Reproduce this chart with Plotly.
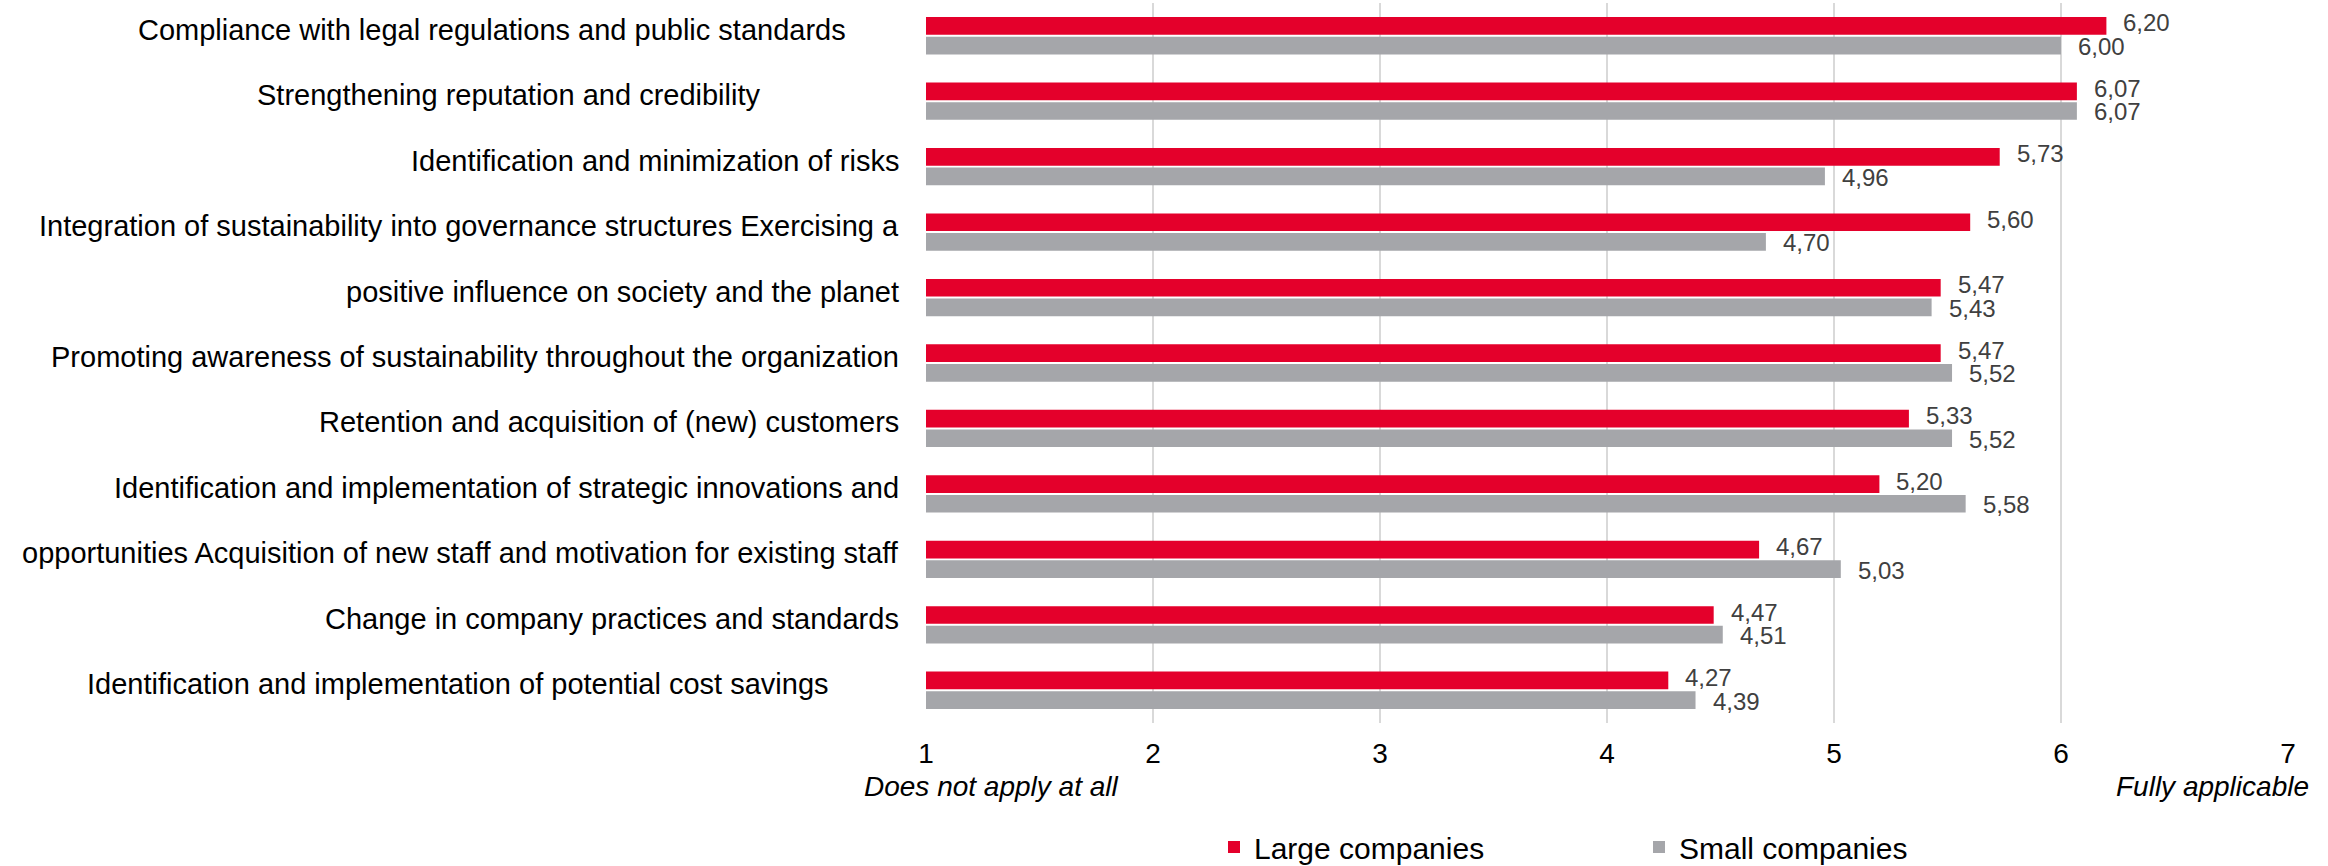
import plotly.graph_objects as go

# Survey items (top to bottom) and mean scores on a 1-7 scale
categories = [
    "Compliance with legal regulations and public standards",
    "Strengthening reputation and credibility",
    "Identification and minimization of risks",
    "Integration of sustainability into governance structures Exercising a",
    "positive influence on society and the planet",
    "Promoting awareness of sustainability throughout the organization",
    "Retention and acquisition of (new) customers",
    "Identification and implementation of strategic innovations and",
    "opportunities Acquisition of new staff and motivation for existing staff",
    "Change in company practices and standards",
    "Identification and implementation of potential cost savings",
]
large_companies = [6.20, 6.07, 5.73, 5.60, 5.47, 5.47, 5.33, 5.20, 4.67, 4.47, 4.27]
small_companies = [6.00, 6.07, 4.96, 4.70, 5.43, 5.52, 5.52, 5.58, 5.03, 4.51, 4.39]
x_ticks = [1, 2, 3, 4, 5, 6, 7]

# Page and plot-area geometry (pixels)
W, H = 2328, 866
PLOT_L, PLOT_R, PLOT_T, PLOT_B = 926, 2288, 3, 723
# right edge of each category caption
label_right = [848, 762, 901, 901, 901, 901, 901, 901, 901, 901, 831]

FONT = "Arial, Liberation Sans, sans-serif"
RED = "#E4002B"
GREY = "#A5A6AA"
BARGAP = 0.40
BARGROUPGAP = 0.10

# vertical offset of each bar in a pair from the category centre
band = (PLOT_B - PLOT_T) / len(categories)
bar_offset = band * (1 - BARGAP) / 4


def px_x(px):
    return (px - PLOT_L) / (PLOT_R - PLOT_L)


def px_y(py):
    return (PLOT_B - py) / (PLOT_B - PLOT_T)


def fmt(v):
    return f"{v:.2f}".replace(".", ",")


fig = go.Figure()
annotations = []
series = [
    ("Large companies", large_companies, RED, bar_offset + 3),
    ("Small companies", small_companies, GREY, -bar_offset - 1),
]
for name, vals, color, shift in series:
    fig.add_trace(go.Bar(
        name=name,
        y=categories,
        x=vals,
        orientation="h",
        marker=dict(color=color, line=dict(width=0)),
        hovertemplate="%{y}: %{x:.2f}<extra>" + name + "</extra>",
    ))
    # value labels just beyond the end of each bar
    for cat, v in zip(categories, vals):
        annotations.append(dict(
            text=fmt(v), xref="x", yref="y", x=v, y=cat,
            xanchor="left", yanchor="middle", xshift=15, yshift=shift,
            showarrow=False,
            font=dict(family=FONT, size=24, color="#404040"),
        ))

for cat, xr in zip(categories, label_right):
    annotations.append(dict(
        text=cat, xref="paper", yref="y", x=px_x(xr), y=cat,
        xanchor="right", yanchor="middle", yshift=6, showarrow=False,
        font=dict(family=FONT, size=29, color="#000000"),
    ))
annotations.append(dict(
    text="<i>Does not apply at all</i>", xref="paper", yref="paper",
    x=px_x(862), y=px_y(787), xanchor="left", yanchor="middle",
    showarrow=False, font=dict(family=FONT, size=28, color="#000000"),
))
annotations.append(dict(
    text="<i>Fully applicable</i>", xref="paper", yref="paper",
    x=px_x(2311), y=px_y(787), xanchor="right", yanchor="middle",
    showarrow=False, font=dict(family=FONT, size=28, color="#000000"),
))

fig.update_layout(
    width=W, height=H,
    margin=dict(l=PLOT_L, r=W - PLOT_R, t=PLOT_T, b=H - PLOT_B, autoexpand=False),
    paper_bgcolor="white", plot_bgcolor="white",
    barmode="group", bargap=BARGAP, bargroupgap=BARGROUPGAP,
    separators=",.",
    font=dict(family=FONT, color="#000000"),
    annotations=annotations,
    showlegend=True,
    legend=dict(
        orientation="h", xref="paper", yref="paper",
        x=px_x(1214), y=px_y(847), xanchor="left", yanchor="middle",
        font=dict(family=FONT, size=30, color="#000000"),
        entrywidth=380, entrywidthmode="pixels",
        bgcolor="rgba(0,0,0,0)", borderwidth=0,
    ),
)
fig.update_xaxes(
    range=[1, 7], tickvals=x_ticks, ticktext=[str(v) for v in x_ticks],
    showgrid=True, gridcolor="#D9D9D9", gridwidth=2, zeroline=False,
    showline=False, ticks="outside", ticklen=5, tickcolor="rgba(0,0,0,0)",
    tickfont=dict(family=FONT, size=28, color="#000000"),
    fixedrange=True,
)
fig.update_yaxes(
    autorange="reversed", showticklabels=False, showgrid=False,
    zeroline=False, showline=False, fixedrange=True,
)

fig.write_html("out.html")
